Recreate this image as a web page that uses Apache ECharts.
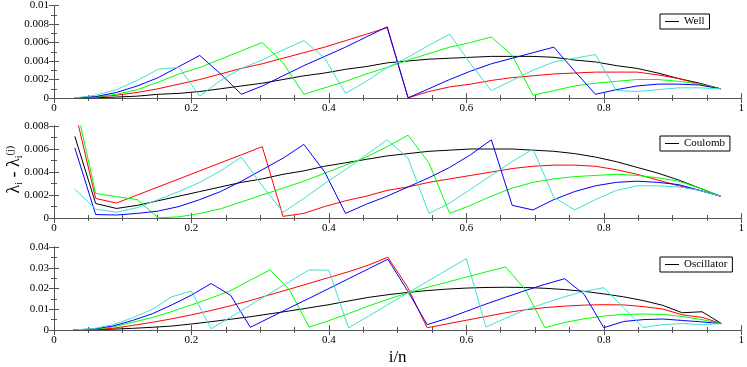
<!DOCTYPE html>
<html>
<head>
<meta charset="utf-8">
<script src="https://cdn.jsdelivr.net/npm/echarts@6/dist/echarts.min.js"></script>
<style>
  html, body { margin: 0; padding: 0; background: #fff; }
  #chart { width: 747px; height: 367px; }
</style>
</head>
<body>
<div id="chart"></div>
<script>
// i/n for n = 33 (Well, Coulomb) and n = 35 (Oscillator)
const xs33 = [0.0303, 0.0606, 0.0909, 0.1212, 0.1515, 0.1818, 0.2121, 0.2424, 0.2727, 0.3030, 0.3333,
  0.3636, 0.3939, 0.4242, 0.4545, 0.4848, 0.5152, 0.5455, 0.5758, 0.6061, 0.6364, 0.6667, 0.6970,
  0.7273, 0.7576, 0.7879, 0.8182, 0.8485, 0.8788, 0.9091, 0.9394, 0.9697]
const xs35 = [0.0286, 0.0571, 0.0857, 0.1143, 0.1429, 0.1714, 0.2000, 0.2286, 0.2571, 0.2857, 0.3143,
  0.3429, 0.3714, 0.4000, 0.4286, 0.4571, 0.4857, 0.5143, 0.5429, 0.5714, 0.6000, 0.6286, 0.6571,
  0.6857, 0.7143, 0.7429, 0.7714, 0.8000, 0.8286, 0.8571, 0.8857, 0.9143, 0.9429, 0.9714]

// Well
const wellBlack = [0.00001, 0.00003, 0.0001, 0.0002, 0.0004, 0.0005, 0.0007, 0.0010, 0.0013, 0.0016, 0.0020,
  0.0024, 0.0027, 0.0031, 0.0034, 0.0038, 0.0040, 0.0042, 0.0043, 0.0044, 0.0045, 0.0045, 0.0045,
  0.0044, 0.0041, 0.0039, 0.0035, 0.0032, 0.0027, 0.0021, 0.0016, 0.0010]
const wellRed = [0.00002, 0.0001, 0.0003, 0.0006, 0.0010, 0.0015, 0.0020, 0.0026, 0.0032, 0.0037, 0.0043,
  0.0049, 0.0055, 0.0062, 0.0069, 0.0076, 0.00002, 0.0007, 0.0012, 0.0015, 0.0019, 0.0022, 0.0024,
  0.0026, 0.0027, 0.0028, 0.0028, 0.0028, 0.0025, 0.0021, 0.0015, 0.0010]
const wellGreen = [0.00001, 0.0001, 0.0004, 0.0009, 0.0017, 0.0026, 0.0033, 0.0042, 0.0051, 0.0060, 0.0038,
  0.0004, 0.0011, 0.0018, 0.0026, 0.0033, 0.0041, 0.0048, 0.0055, 0.0060, 0.0066, 0.0046, 0.0003,
  0.0008, 0.0013, 0.0016, 0.0018, 0.0020, 0.0020, 0.0018, 0.0015, 0.0010]
const wellBlue = [0.00001, 0.00015, 0.0006, 0.0013, 0.0022, 0.0034, 0.0046, 0.0026, 0.0004, 0.0013, 0.0024,
  0.0035, 0.0045, 0.0055, 0.0066, 0.0077, 0.00002, 0.0010, 0.0020, 0.0029, 0.0037, 0.0043, 0.0049,
  0.0055, 0.0029, 0.0004, 0.0009, 0.0013, 0.0015, 0.0015, 0.0014, 0.0010]
const wellCyan = [0.00001, 0.0003, 0.0009, 0.0019, 0.0031, 0.0033, 0.0002, 0.0019, 0.0032, 0.0041, 0.0052,
  0.0062, 0.0043, 0.0005, 0.0018, 0.0033, 0.0044, 0.0057, 0.0069, 0.0037, 0.0008, 0.0019, 0.0030,
  0.0039, 0.0043, 0.0047, 0.0008, 0.0007, 0.0009, 0.0011, 0.0011, 0.0010]

// Coulomb
const coulBlack = [0.0071, 0.00126, 0.00083, 0.0011, 0.0015, 0.0019, 0.0023, 0.0027, 0.0031, 0.0034, 0.0038,
  0.0041, 0.0045, 0.0048, 0.0051, 0.0054, 0.0056, 0.0058, 0.0059, 0.0060, 0.0060, 0.0060, 0.0059,
  0.0058, 0.0056, 0.0053, 0.0049, 0.0044, 0.0039, 0.0033, 0.0026, 0.0019]
const coulRed = [0.0094, 0.0017, 0.0013, 0.0020, 0.0027, 0.0034, 0.0041, 0.0048, 0.0055, 0.0062, 0.00014,
  0.0004, 0.0010, 0.0015, 0.0019, 0.0024, 0.0027, 0.0031, 0.0034, 0.0037, 0.0040, 0.0043, 0.0045,
  0.0046, 0.0046, 0.0045, 0.0042, 0.0038, 0.0033, 0.0028, 0.0024, 0.0019]
const coulGreen = [0.0103, 0.00214, 0.00186, 0.0016, 0.00002, 0.0001, 0.0004, 0.0008, 0.0014, 0.0020, 0.0026,
  0.0032, 0.0039, 0.0046, 0.0053, 0.0062, 0.0072, 0.0048, 0.0004, 0.0011, 0.0019, 0.0026, 0.0031,
  0.0034, 0.0036, 0.0037, 0.0038, 0.0037, 0.0035, 0.0032, 0.0026, 0.0019]
const coulBlue = [0.0061, 0.0003, 0.00026, 0.0004, 0.0006, 0.0010, 0.0016, 0.0023, 0.0032, 0.0042, 0.0052,
  0.0064, 0.0040, 0.0004, 0.0012, 0.0019, 0.0027, 0.0035, 0.0044, 0.0055, 0.0068, 0.0011, 0.0007,
  0.0016, 0.0023, 0.0028, 0.0031, 0.0032, 0.0031, 0.0029, 0.0024, 0.0019]
const coulCyan = [0.0025, 0.00077, 0.0005, 0.0009, 0.0016, 0.0023, 0.0031, 0.0041, 0.0053, 0.0028, 0.0005,
  0.0017, 0.0030, 0.0042, 0.0055, 0.0068, 0.0052, 0.0004, 0.0013, 0.0025, 0.0037, 0.0049, 0.0060,
  0.0018, 0.0007, 0.0016, 0.0024, 0.0028, 0.0028, 0.0027, 0.0024, 0.0019]

// Oscillator
const oscBlack = [0.00005, 0.0001, 0.0004, 0.0008, 0.0013, 0.0019, 0.0029, 0.0040, 0.0052, 0.0064, 0.0078,
  0.0092, 0.0107, 0.0122, 0.0140, 0.0157, 0.0170, 0.0181, 0.0190, 0.0197, 0.0202, 0.0205, 0.0206,
  0.0205, 0.0201, 0.0195, 0.0186, 0.0174, 0.0160, 0.0142, 0.0119, 0.0083, 0.0088, 0.0031]
const oscRed = [0.00005, 0.0002, 0.0008, 0.0022, 0.0037, 0.0054, 0.0073, 0.0094, 0.0117, 0.0142, 0.0170,
  0.0197, 0.0225, 0.0253, 0.0281, 0.0312, 0.0351, 0.0208, 0.0011, 0.0029, 0.0047, 0.0065, 0.0083,
  0.0097, 0.0108, 0.0115, 0.0120, 0.0122, 0.0121, 0.0113, 0.0101, 0.0073, 0.0061, 0.0031]
const oscGreen = [0.00005, 0.0004, 0.0014, 0.0037, 0.0060, 0.0089, 0.0121, 0.0154, 0.0190, 0.0240, 0.0290,
  0.0192, 0.0014, 0.0045, 0.0079, 0.0115, 0.0148, 0.0178, 0.0205, 0.0230, 0.0255, 0.0280, 0.0304,
  0.0194, 0.0011, 0.0036, 0.0054, 0.0067, 0.0075, 0.0077, 0.0075, 0.0065, 0.0050, 0.0031]
const oscBlue = [0.00005, 0.0005, 0.0019, 0.0046, 0.0078, 0.0121, 0.0168, 0.0224, 0.0167, 0.0013, 0.0060,
  0.0107, 0.0153, 0.0200, 0.0247, 0.0294, 0.0341, 0.0190, 0.0026, 0.0055, 0.0090, 0.0125, 0.0158,
  0.0190, 0.0220, 0.0247, 0.0172, 0.0011, 0.0041, 0.0050, 0.0053, 0.0046, 0.0039, 0.0031]
const oscCyan = [0.00005, 0.0006, 0.0026, 0.0058, 0.0100, 0.0160, 0.0188, 0.0006, 0.0062, 0.0120, 0.0177,
  0.0233, 0.0290, 0.0288, 0.0010, 0.0066, 0.0122, 0.0178, 0.0233, 0.0289, 0.0344, 0.0014, 0.0057,
  0.0097, 0.0129, 0.0160, 0.0186, 0.0204, 0.0108, 0.0012, 0.0026, 0.0031, 0.0026, 0.0031]

const xTicks = [0, 0.2, 0.4, 0.6, 0.8, 1]

const LINE_COLORS = ['#000000', '#ff0000', '#00ff00', '#0000ff', '#40e0d0']
const FONT = "'Liberation Serif', 'Times New Roman', serif"

const panels = [
  { name: 'Well', xs: xs33, lines: [wellBlack, wellRed, wellGreen, wellBlue, wellCyan],
    max: 0.01, step: 0.002, minor: 2, top: 5, height: 93, legendTop: 14 },
  { name: 'Coulomb', xs: xs33, lines: [coulBlack, coulRed, coulGreen, coulBlue, coulCyan],
    max: 0.008, step: 0.002, minor: 2, top: 126, height: 92, legendTop: 136 },
  { name: 'Oscillator', xs: xs35, lines: [oscBlack, oscRed, oscGreen, oscBlue, oscCyan],
    max: 0.04, step: 0.01, minor: 2, top: 247, height: 93, legendTop: 257 }
]

const frame = { show: true, lineStyle: { color: '#555', width: 1 } }
const majorTick = { show: true, inside: true, length: 5, lineStyle: { color: '#555' } }
const minorTick = { show: true, splitNumber: 4, length: 3, lineStyle: { color: '#555' } }
const labelStyle = { color: '#000', fontFamily: FONT, fontSize: 11 }

const grid = []
const xAxis = []
const yAxis = []
const series = []
const legend = []

panels.forEach((p, k) => {
  grid.push({ left: 54, width: 689, top: p.top, height: p.height })

  // bottom and mirrored top x axes
  xAxis.push({
    type: 'value', gridIndex: k, min: 0, max: 1, interval: 0.2, position: 'bottom',
    axisLine: frame, axisTick: majorTick, minorTick: minorTick, splitLine: { show: false },
    axisLabel: Object.assign({ margin: 5, formatter: v => xTicks.indexOf(v) >= 0 ? String(v) : '' }, labelStyle),
    name: k === 2 ? 'i/n' : '', nameLocation: 'middle', nameGap: 19,
    nameTextStyle: { fontFamily: FONT, fontSize: 17, color: '#000' }
  })
  xAxis.push({
    type: 'value', gridIndex: k, min: 0, max: 1, interval: 0.2, position: 'top',
    axisLine: frame, axisTick: majorTick, minorTick: minorTick, splitLine: { show: false },
    axisLabel: { show: false }
  })

  // left and mirrored right y axes
  yAxis.push({
    type: 'value', gridIndex: k, min: 0, max: p.max, interval: p.step, position: 'left',
    axisLine: frame, axisTick: majorTick,
    minorTick: Object.assign({}, minorTick, { splitNumber: p.minor }), splitLine: { show: false },
    axisLabel: Object.assign({ margin: 5 }, labelStyle)
  })
  yAxis.push({
    type: 'value', gridIndex: k, min: 0, max: p.max, interval: p.step, position: 'right',
    axisLine: frame, axisTick: majorTick,
    minorTick: Object.assign({}, minorTick, { splitNumber: p.minor }), splitLine: { show: false },
    axisLabel: { show: false }
  })

  p.lines.forEach((vals, c) => {
    series.push({
      name: c === 0 ? p.name : p.name + ' ' + c,
      type: 'line',
      xAxisIndex: 2 * k,
      yAxisIndex: 2 * k,
      data: p.xs.map((x, i) => [x, vals[i]]),
      symbol: 'none',
      clip: true,
      lineStyle: { color: LINE_COLORS[c], width: 1 },
      itemStyle: { color: LINE_COLORS[c] },
      z: 2 + c
    })
  })

  legend.push({
    data: [{ name: p.name, icon: 'rect' }],
    left: 660,
    top: p.legendTop,
    backgroundColor: '#fff',
    borderColor: '#000',
    borderWidth: 1,
    borderRadius: 0,
    padding: [2, 5, 2, 5],
    itemWidth: 14,
    itemHeight: 1,
    selectedMode: false,
    textStyle: { fontFamily: FONT, fontSize: 11, color: '#000' }
  })
})

const chart = echarts.init(document.getElementById('chart'))
chart.setOption({
  animation: false,
  backgroundColor: '#fff',
  grid: grid,
  xAxis: xAxis,
  yAxis: yAxis,
  legend: legend,
  series: series,
  graphic: [{
    type: 'text',
    left: 5,
    top: 146,
    rotation: Math.PI / 2,
    style: {
      text: 'λ{sub|i} - λ{sub|i}{sup|(j)}',
      fontFamily: FONT,
      fontSize: 18,
      fill: '#000',
      rich: {
        sub: { fontFamily: FONT, fontSize: 10, padding: [9, 0, 0, 0] },
        sup: { fontFamily: FONT, fontSize: 10, padding: [0, 0, 9, 0] }
      }
    }
  }]
})
</script>
</body>
</html>
